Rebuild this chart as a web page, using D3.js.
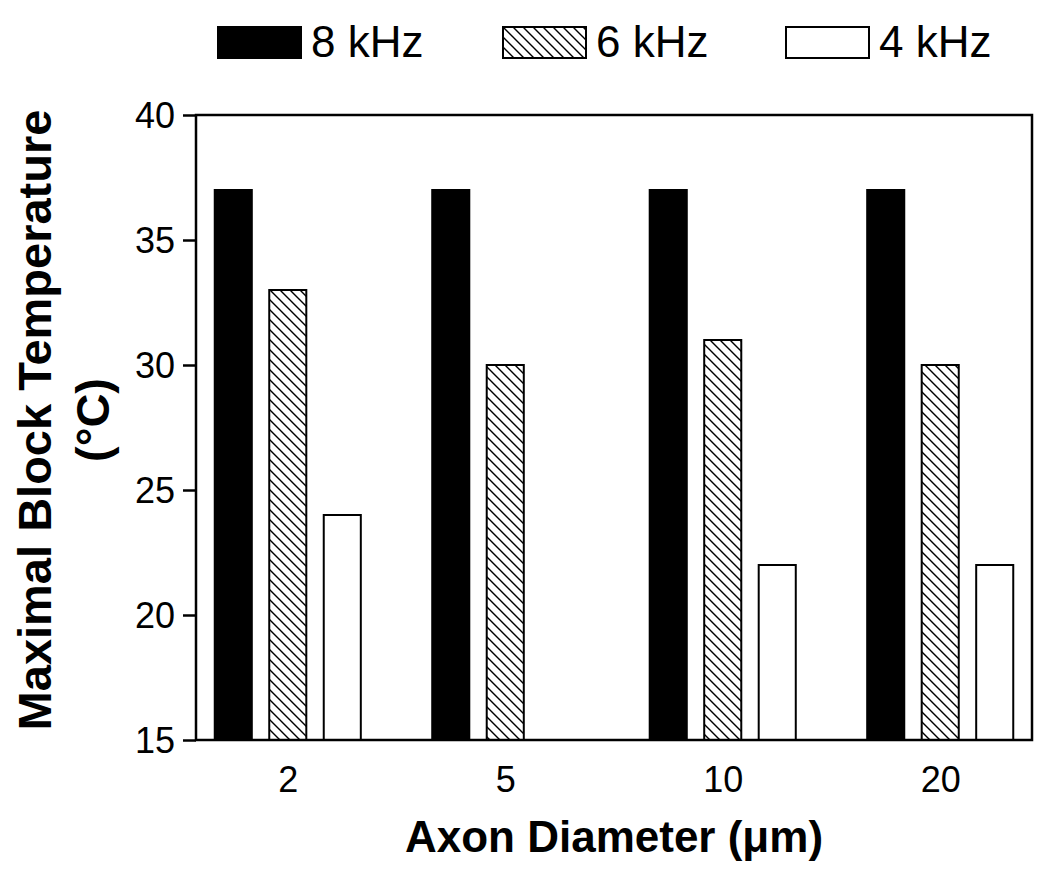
<!DOCTYPE html>
<html>
<head>
<meta charset="utf-8">
<script src="https://d3js.org/d3.v7.min.js"></script>
<style>
  body { margin: 0; background: #fff; }
  text { font-family: Arial, "Liberation Sans", sans-serif; fill: #000; }
</style>
</head>
<body>
<div id="chart"></div>
<script>
// data
var diameters = ["2", "5", "10", "20"];
var seriesNames = ["8 kHz", "6 kHz", "4 kHz"];
var temp8k = [37, 37, 37, 37];
var temp6k = [33, 30, 31, 30];
var temp4k = [24, null, 22, 22];   // no 4 kHz bar for 5 um
var yTicks = [15, 20, 25, 30, 35, 40];

var allSeries = [temp8k, temp6k, temp4k];

var width = 1050, height = 876;
var plot = {left: 196, right: 1032, top: 115, bottom: 740};

var svg = d3.select("#chart").append("svg")
    .attr("width", width)
    .attr("height", height);

// hatch for the 6 kHz bars
var defs = svg.append("defs");
var pat = defs.append("pattern")
    .attr("id", "hatch")
    .attr("patternUnits", "userSpaceOnUse")
    .attr("width", 10).attr("height", 10);
pat.append("rect").attr("width", 10).attr("height", 10).attr("fill", "#fff");
pat.append("path")
    .attr("d", "M-1,-1 L11,11 M-1,9 L1,11 M9,-1 L11,1")
    .attr("stroke", "#000").attr("stroke-width", 1.4);

var fills = ["#000", "url(#hatch)", "#fff"];

var x = d3.scalePoint()
    .domain(diameters)
    .range([plot.left, plot.right])
    .padding(0.422);

var inner = d3.scaleBand()
    .domain(seriesNames)
    .range([-81.75, 81.75])
    .paddingInner(0.32)
    .paddingOuter(0.16);

var y = d3.scaleLinear()
    .domain([15, 40])
    .range([plot.bottom, plot.top]);

// bars
seriesNames.forEach(function(s, si) {
  var vals = allSeries[si];
  svg.append("g")
    .selectAll("rect")
    .data(diameters.map(function(d, i) { return {cat: d, v: vals[i]}; })
                   .filter(function(d) { return d.v != null; }))
    .enter().append("rect")
    .attr("x", function(d) { return x(d.cat) + inner(s); })
    .attr("y", function(d) { return y(d.v); })
    .attr("width", inner.bandwidth())
    .attr("height", function(d) { return y(15) - y(d.v); })
    .attr("fill", fills[si])
    .attr("stroke", "#000")
    .attr("stroke-width", 2);
});

// frame
svg.append("rect")
    .attr("x", plot.left).attr("y", plot.top)
    .attr("width", plot.right - plot.left)
    .attr("height", plot.bottom - plot.top)
    .attr("fill", "none")
    .attr("stroke", "#000")
    .attr("stroke-width", 2.5);

// y axis
var yAxis = svg.append("g")
    .attr("transform", "translate(" + plot.left + ",0)")
    .call(d3.axisLeft(y).tickValues(yTicks).tickSize(13).tickPadding(8));
yAxis.select(".domain").remove();
yAxis.selectAll("line").attr("stroke-width", 2.5);
yAxis.selectAll("text")
    .style("font-size", "36px")
    .attr("dy", "0.36em");

// x axis (labels only)
var xAxis = svg.append("g")
    .attr("transform", "translate(0," + plot.bottom + ")")
    .call(d3.axisBottom(x).tickSize(0).tickPadding(26));
xAxis.select(".domain").remove();
xAxis.selectAll("text").style("font-size", "36px");

// axis titles
svg.append("text")
    .attr("x", (plot.left + plot.right) / 2)
    .attr("y", 852)
    .attr("text-anchor", "middle")
    .style("font-size", "44px")
    .style("font-weight", "bold")
    .text("Axon Diameter (\u03bcm)");

var yt = svg.append("text")
    .attr("transform", "translate(51,420) rotate(-90)")
    .attr("text-anchor", "middle")
    .style("font-size", "47px")
    .style("font-weight", "bold");
yt.append("tspan").attr("x", 0).attr("y", 0).text("Maximal Block Temperature");
yt.append("tspan").attr("x", 0).attr("y", 58).text("(\u00b0C)");

// legend
var legendX = [218, 503, 786];
var lg = svg.append("g").selectAll("g")
    .data(seriesNames)
    .enter().append("g")
    .attr("transform", function(d, i) { return "translate(" + legendX[i] + ",27)"; });
lg.append("rect")
    .attr("width", 83).attr("height", 31)
    .attr("fill", function(d, i) { return fills[i]; })
    .attr("stroke", "#000")
    .attr("stroke-width", 2);
lg.append("text")
    .attr("x", 93)
    .attr("y", 30)
    .style("font-size", "44px")
    .text(function(d) { return d; });
</script>
</body>
</html>
